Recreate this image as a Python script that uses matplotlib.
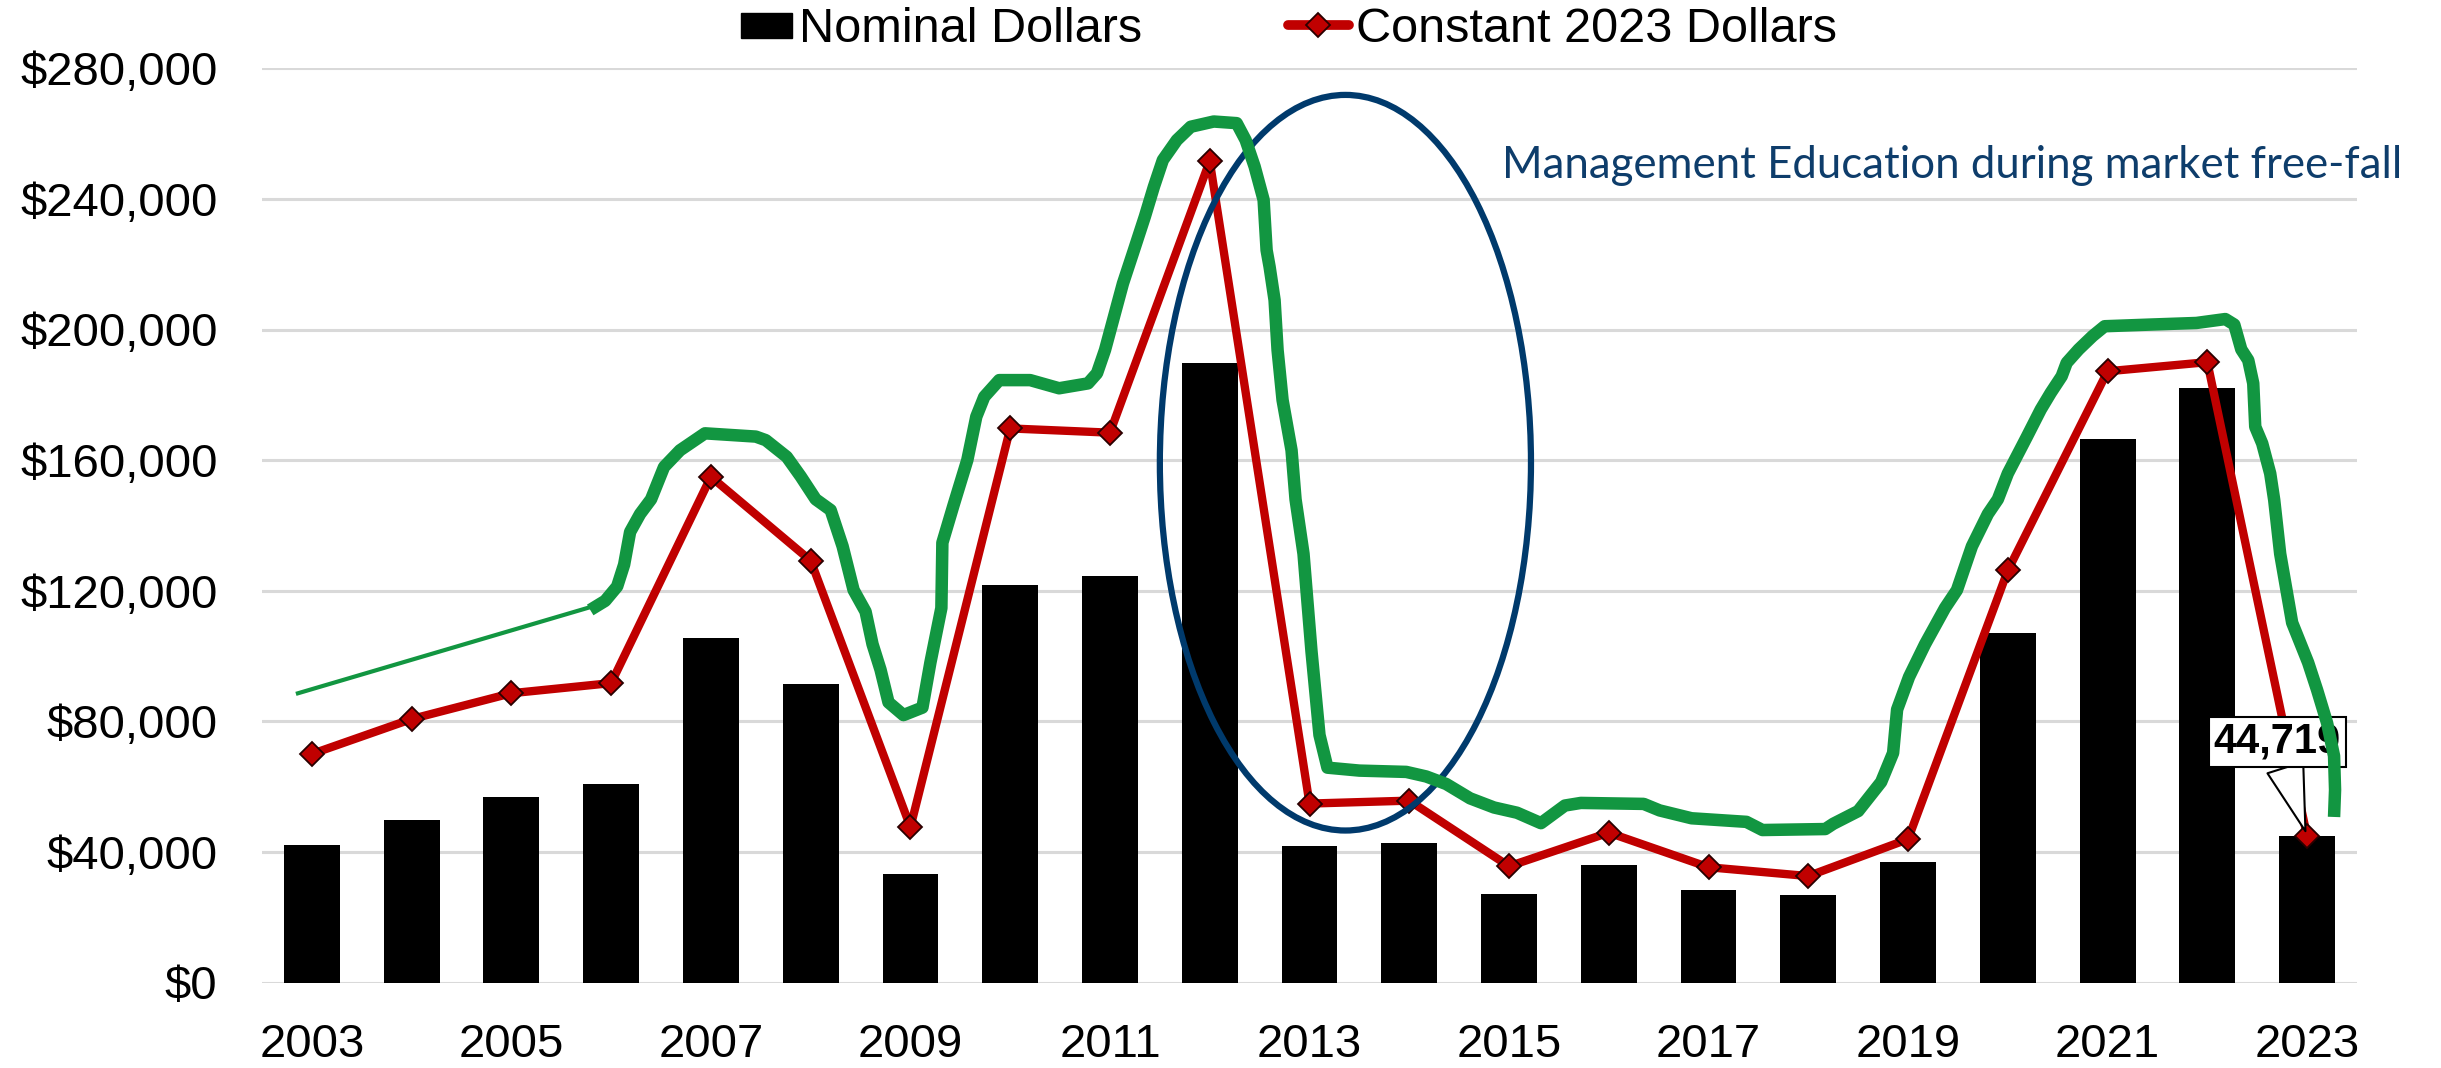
import matplotlib
matplotlib.use("Agg")
import matplotlib.pyplot as plt
import matplotlib.patches as mpatches
from matplotlib.lines import Line2D
from matplotlib.legend_handler import HandlerPatch
from matplotlib.ticker import FuncFormatter

plt.rcParams['font.family'] = ['Liberation Sans', 'DejaVu Sans']

# ---------------- data ----------------
years = list(range(2003, 2024))
nominal = [42200, 49900, 56800, 60700, 105600, 91400, 33300, 121700, 124400, 189700,
           41800, 42600, 27200, 36100, 28400, 26900, 37000, 107000, 166500, 182000, 44719]
constant = [70000, 80700, 88600, 91700, 154900, 129200, 47600, 169700, 168400, 251600,
            54800, 55700, 35600, 45900, 35300, 32600, 43900, 126200, 187200, 190000, 44719]
y_ticks = [0, 40000, 80000, 120000, 160000, 200000, 240000, 280000]
x_tick_years = years[::2]
legend_labels = ["Nominal Dollars", "Constant 2023 Dollars"]
note_text = "Management Education during market free-fall"
label_2023 = "44,719"

# hand-drawn green highlight path (year, dollars)
green_thin_x = [2002.84, 2005.85]
green_thin_y = [88400, 115500]
green_x = [2005.79, 2005.94, 2006.06, 2006.13, 2006.19, 2006.29, 2006.40, 2006.53, 2006.69, 2006.94,
           2007.45, 2007.55, 2007.76, 2007.90, 2008.05, 2008.20, 2008.32, 2008.43, 2008.55, 2008.62,
           2008.70, 2008.78, 2008.93, 2009.12, 2009.20, 2009.31, 2009.32, 2009.43, 2009.57, 2009.66,
           2009.74, 2009.89, 2010.20, 2010.49, 2010.78, 2010.87, 2010.95, 2011.04, 2011.13, 2011.24,
           2011.35, 2011.44, 2011.53, 2011.67, 2011.81, 2012.04, 2012.27, 2012.36, 2012.45, 2012.54,
           2012.57, 2012.60, 2012.65, 2012.68, 2012.73, 2012.82, 2012.86, 2012.94, 2013.02, 2013.10,
           2013.18, 2013.50, 2013.97, 2014.17, 2014.37, 2014.61, 2014.85, 2015.08, 2015.32, 2015.56,
           2015.72, 2016.35, 2016.51, 2016.83, 2017.38, 2017.54, 2018.17, 2018.25, 2018.50, 2018.73,
           2018.85, 2018.89, 2019.01, 2019.17, 2019.37, 2019.49, 2019.64, 2019.80, 2019.90, 2020.00,
           2020.19, 2020.33, 2020.43, 2020.54, 2020.59, 2020.71, 2020.85, 2020.97, 2021.42, 2021.89,
           2022.18, 2022.27, 2022.34, 2022.41, 2022.46, 2022.48, 2022.55, 2022.63, 2022.67, 2022.73,
           2022.85, 2023.01, 2023.10, 2023.20, 2023.27, 2023.28, 2023.27]
green_y = [114100, 116900, 121300, 128000, 138000, 143500, 148000, 157900, 163000, 168200,
           167200, 166100, 161000, 155000, 148000, 144700, 133600, 120200, 113600, 103600,
           95800, 85800, 81900, 84200, 98000, 114700, 134700, 146000, 160000, 173300,
           179400, 184500, 184500, 182000, 183500, 186600, 193700, 203900, 214100, 224300,
           234600, 243700, 251900, 258000, 262100, 263700, 263200, 258000, 249900, 239700,
           224300, 219200, 209000, 193700, 178400, 163000, 148000, 131300, 101400, 75800,
           65800, 64900, 64500, 63100, 60800, 56400, 53600, 52000, 48800, 54200,
           55000, 54700, 52700, 50300, 49200, 46700, 47000, 48600, 52500, 61400,
           70300, 83600, 93600, 103600, 114700, 120200, 133600, 143500, 148000, 155900,
           167100, 175500, 180600, 185700, 189800, 193900, 198000, 201000, 201500, 202000,
           203200, 201500, 193900, 190600, 183500, 170200, 165100, 155900, 147800, 131300,
           110200, 98000, 89600, 79500, 69400, 59000, 50700]

# ellipse (centre year, centre dollars, width in years, height in dollars)
ell_center = (2013.36, 159200)
ell_size = (3.72, 225300)

# ---------------- figure ----------------
W, H = 2441, 1068
fig = plt.figure(figsize=(W / 100, H / 100), dpi=100)
ax = fig.add_axes([262 / W, 1 - 982.5 / H, (2357 - 262) / W, (982.5 - 68.3) / H])

RED = '#C00000'
GREEN = '#129641'
NAVY = '#003A6C'

ax.bar(years, nominal, width=0.56, color='black', zorder=2)
ax.plot(years, constant, color=RED, lw=6, marker='D', ms=12, mfc=RED, mec='#2a0000',
        mew=1.3, zorder=3, solid_joinstyle='round')

ax.add_patch(mpatches.Ellipse(ell_center, ell_size[0], ell_size[1], fill=False,
                              ec=NAVY, lw=4.5, zorder=4))

ax.plot(green_thin_x, green_thin_y, color=GREEN, lw=3, zorder=6, solid_capstyle='butt')
ax.plot(green_x, green_y, color=GREEN, lw=9, zorder=6, solid_joinstyle='round',
        solid_capstyle='butt')

ax.text(2014.93, 246400, note_text, color='#0E3D6B', fontsize=31.5, family=['Lato', 'DejaVu Sans'],
        ha='left', va='baseline', zorder=5)

ax.annotate(label_2023, xy=(years[-1], nominal[-1]), xytext=(2022.70, 73700),
            ha='center', va='center', fontsize=30, fontweight='bold', color='black',
            bbox=dict(boxstyle='square,pad=0.12', fc='white', ec='black', lw=1.5),
            arrowprops=dict(arrowstyle='wedge,tail_width=0.9,shrink_factor=0.5',
                            fc='white', ec='black', lw=1.5, shrinkA=0, shrinkB=4),
            zorder=5)

ax.set_xlim(2002.5, 2023.5)
ax.set_ylim(0, 280000)
ax.set_yticks(y_ticks)
ax.yaxis.set_major_formatter(FuncFormatter(lambda v, p: f"${v:,.0f}"))
ax.set_xticks(x_tick_years)
ax.set_xticklabels([str(y) for y in x_tick_years])
ax.tick_params(axis='both', length=0, labelsize=34, colors='black')
ax.tick_params(axis='y', pad=32)
ax.tick_params(axis='x', pad=29)
ax.grid(axis='y', color='#D9D9D9', lw=2.2, zorder=0)
ax.set_axisbelow(True)
for s in ax.spines.values():
    s.set_visible(False)


def small_box(legend, orig_handle, xdescent, ydescent, width, height, fontsize):
    w = width * 0.84
    h = height * 0.75
    return mpatches.Rectangle((-xdescent + width - w, -ydescent + (height - h) / 2), w, h)


h_bar = mpatches.Patch(color='black')
h_line = Line2D([], [], color=RED, lw=7, marker='D', ms=12, mfc=RED, mec='#2a0000', mew=1.3,
                solid_capstyle='round')
fig.legend([h_bar, h_line], legend_labels, loc='center', bbox_to_anchor=(0.526, 0.972),
           ncol=2, frameon=False, fontsize=35, handlelength=1.25, handletextpad=0.15,
           columnspacing=3.0, handler_map={mpatches.Patch: HandlerPatch(patch_func=small_box)})

fig.savefig('out.png', dpi=100, facecolor='white')
